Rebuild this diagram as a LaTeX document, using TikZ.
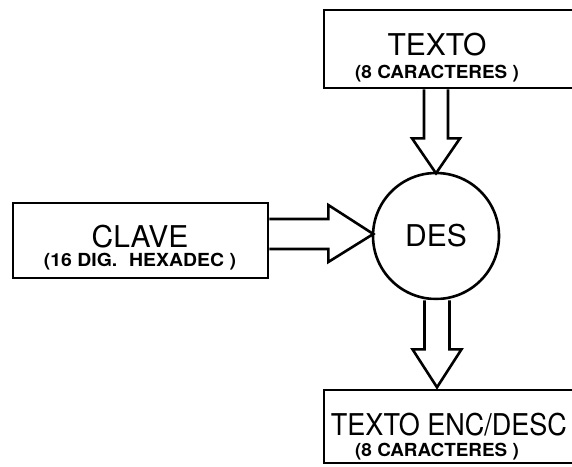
\documentclass[tikz,border=0pt]{standalone}
\usepackage{fontspec}
\setmainfont{TeX Gyre Heros}
\usetikzlibrary{calc}
\tikzset{
  ln/.style={line width=2.6pt, line join=miter},
  bigtxt/.style={font=\fontsize{30}{30}\selectfont, inner sep=0pt},
  smalltxt/.style={font=\fontsize{18}{18}\selectfont\bfseries, inner sep=0pt},
  boxnode/.style={draw, line width=2.6pt, inner sep=0pt},
}
\begin{document}
\begin{tikzpicture}[x=1pt,y=1pt]
\clip (0,0) rectangle (572,-466);
\useasboundingbox (0,0) rectangle (572,-466);
% boxes
\node[boxnode, minimum width=276pt, minimum height=78pt] (topbox) at (462,-49) {};
\node[boxnode, minimum width=276pt, minimum height=73pt] (botbox) at (462,-426.5) {};
\node[boxnode, minimum width=255pt, minimum height=75pt] (clave) at (140.5,-240.5) {};
\node[draw, circle, line width=2.6pt, minimum size=126pt, inner sep=0pt] (des) at (436,-236) {};
% texts
\node[bigtxt] (t1) at (437,-45) {TEXTO};
\node[smalltxt] (t1s) at (437,-74) {\scalebox{1.05}[1]{(8 CARACTERES )}};
\node[bigtxt] (c1) at (140,-237) {CLAVE};
\node[smalltxt] (c1s) at (140,-262) {\scalebox{1.08}[1]{(16 DIG.\hspace{6pt} HEXADEC )}};
\node[bigtxt] (d1) at (436,-236) {DES};
\node[bigtxt, anchor=east] (b1) at (567,-425) {\scalebox{0.9}[1]{TEXTO ENC/DESC}};
\node[smalltxt] (b1s) at (437,-452) {\scalebox{1.05}[1]{(8 CARACTERES )}};
% block arrows
\draw[ln, fill=white] ($(des.north |- topbox.south)+(-12,0)$) -- ++(0,-49) -- ++(-12,0)
  -- ++(24,-35) -- ++(24,35) -- ++(-12,0) -- ++(0,49);
\draw[ln, fill=white] ($(clave.east)+(0,21.5)$) -- ++(59,0) -- ++(0,14)
  -- ++(45,-29) -- ++(-45,-28) -- ++(0,13) -- ++(-59,0);
\draw[ln, fill=white] ($(des.south)+(-11.5,0)$) -- ++(0,-49) -- ++(-12,0)
  -- ++(24.5,-38) -- ++(24.5,38) -- ++(-12,0) -- ++(0,49);
\end{tikzpicture}
\end{document}
